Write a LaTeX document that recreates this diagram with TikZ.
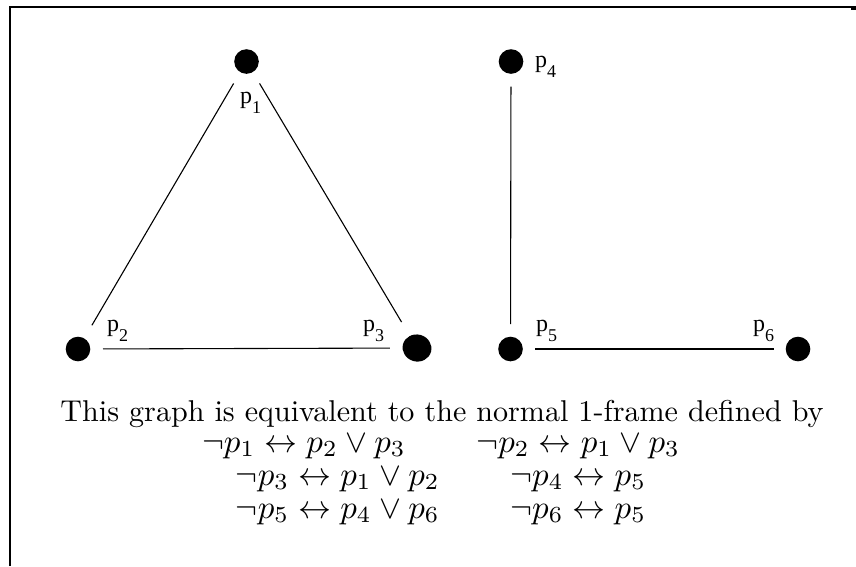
\documentclass[tikz,border=0pt]{standalone}
\usepackage{fontspec}
\newfontfamily\labfont{Liberation Serif}
\usetikzlibrary{shapes.geometric}
\newcommand\plab[1]{{\labfont\fontsize{24}{24}\selectfont p\raisebox{-10pt}{\fontsize{18}{18}\selectfont #1}}}
\newcommand\mrow[2]{\scalebox{3.29}{$#1\hspace{2.15em}#2$}}
\begin{document}
\begin{tikzpicture}[x=1pt,y=-1pt,
  dot/.style={circle,fill=black,inner sep=0pt,minimum size=24.6pt},
  odot/.style={ellipse,fill=black,inner sep=0pt,minimum width=29pt,minimum height=27pt,rotate=-15},
  edge/.style={line width=1.1pt},
  lab/.style={inner sep=0pt,anchor=base west},
  formula/.style={inner sep=0pt,anchor=base},
  frame/.style={line width=2.6pt}]
\useasboundingbox (0,0) rectangle (856,566);
% frame
\draw[frame] (10,566) -- (10,7) -- (852,7);
\fill (851,5.5) rectangle (856,9.5);
% dots
\node[dot] (d1) at (246.5,61.5) {};
\node[dot] (d2) at (78,349) {};
\node[odot] (d3) at (417,348) {};
\node[dot] (d4) at (511,61.5) {};
\node[dot] (d5) at (510.5,349) {};
\node[dot] (d6) at (798,349) {};
% labels
\node[lab] (l1) at (240,103) {\plab{1}};
\node[lab] (l2) at (107,331) {\plab{2}};
\node[lab] (l3) at (363,331) {\plab{3}};
\node[lab] (l4) at (535,67) {\plab{4}};
\node[lab] (l5) at (536,331) {\plab{5}};
\node[lab] (l6) at (753,331) {\plab{6}};
% edges
\draw[edge,shorten <=13pt,shorten >=15pt] (d1) -- (d2);
\draw[edge,shorten <=13pt,shorten >=16pt] (d1) -- (d3);
\draw[edge,shorten <=12.5pt,shorten >=12.5pt] (d2) -- (d3);
\draw[edge,shorten <=12.5pt,shorten >=12.5pt] (d4) -- (d5);
\draw[edge,shorten <=12pt,shorten >=12pt] (d5) -- (d6);
% text
\node[inner sep=0pt,anchor=base] (title) at (442,421)
  {\scalebox{3.01}{This graph is equivalent to the normal 1-frame defined by}};
\node[formula] (r1) at (441,452) {\mrow{\neg p_1 \leftrightarrow p_2 \vee p_3}{\neg p_2 \leftrightarrow p_1 \vee p_3}};
\node[formula] (r2) at (441,485) {\mrow{\neg p_3 \leftrightarrow p_1 \vee p_2}{\neg p_4 \leftrightarrow p_5}};
\node[formula] (r3) at (441,518) {\mrow{\neg p_5 \leftrightarrow p_4 \vee p_6}{\neg p_6 \leftrightarrow p_5}};
\end{tikzpicture}
\end{document}
